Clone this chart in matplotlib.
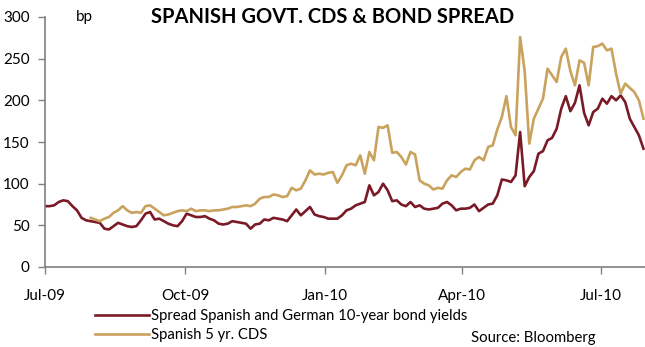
import matplotlib
matplotlib.use("Agg")
import matplotlib.pyplot as plt
import matplotlib.dates as mdates
import pandas as pd
import numpy as np

plt.rcParams['font.family'] = ['Lato', 'DejaVu Sans']

# 3-day sampling grid starting 1 Jul 2009
dates = pd.date_range('2009-07-01', periods=132, freq='3D')

bond_spread = [
    73, 73, 74, 78, 80, 79, 73, 68, 59, 56,
    55, 54, 53, 46, 45, 49, 53, 51, 49, 48,
    49, 56, 64, 66, 57, 58, 55, 52, 50, 49,
    55, 64, 62, 60, 60, 61, 58, 56, 52, 51,
    52, 55, 54, 53, 52, 46, 51, 52, 57, 56,
    59, 58, 57, 55, 62, 69, 62, 67, 72, 63,
    61, 60, 58, 58, 58, 62, 68, 70, 74, 76,
    78, 98, 86, 90, 100, 92, 79, 80, 75, 73,
    78, 72, 74, 70, 69, 70, 71, 76, 78, 74,
    68, 70, 70, 71, 75, 67, 71, 75, 76, 86,
    105, 104, 102, 110, 162, 97, 108, 115, 136, 139,
    152, 155, 166, 190, 205, 187, 197, 218, 185, 170,
    186, 190, 202, 196, 205, 200, 206, 198, 178, 168,
    158, 142,
]

# CDS series begins on the 11th grid date
cds_start = 10
cds_5yr = [
    59, 57, 55, 58, 60, 65, 68, 73, 68, 65,
    66, 65, 73, 74, 70, 66, 62, 63, 65, 67,
    68, 67, 70, 67, 68, 68, 67, 68, 68, 69,
    70, 72, 72, 73, 74, 73, 76, 82, 84, 84,
    87, 86, 84, 85, 95, 92, 94, 104, 116, 111,
    112, 111, 113, 114, 101, 110, 122, 124, 122, 134,
    112, 138, 128, 168, 167, 170, 137, 138, 132, 123,
    138, 135, 104, 100, 98, 93, 95, 94, 104, 110,
    108, 114, 118, 117, 128, 132, 128, 144, 146, 165,
    180, 205, 168, 158, 276, 235, 148, 178, 190, 202,
    238, 230, 222, 252, 262, 235, 218, 248, 245, 218,
    264, 265, 268, 260, 262, 232, 208, 220, 215, 210,
    200, 178,
]

yticks = [0, 50, 100, 150, 200, 250, 300]
xtick_dates = pd.to_datetime(['2009-07-01', '2009-10-01', '2010-01-01',
                              '2010-04-01', '2010-07-01'])

bond_color = '#7a1a27'
cds_color = '#c9a25e'

fig = plt.figure(figsize=(6.45, 3.47), dpi=100)
ax = fig.add_axes([45/645, 1-267/347, 1-45/645, (267-17)/347])

l1, = ax.plot(dates, bond_spread, color=bond_color, lw=1.9,
              label='Spread Spanish and German 10-year bond yields')
l2, = ax.plot(dates[cds_start:], cds_5yr, color=cds_color, lw=1.9,
              label='Spanish 5 yr. CDS')

ax.set_ylim(0, 300)
ax.set_yticks(yticks)
ax.set_xlim(pd.Timestamp('2009-07-01'), pd.Timestamp('2010-07-30'))
ax.set_xticks(xtick_dates)
ax.xaxis.set_major_formatter(mdates.DateFormatter('%b-%y'))

for s in ['top', 'right']:
    ax.spines[s].set_visible(False)
for s in ['left', 'bottom']:
    ax.spines[s].set_color('#808080')
    ax.spines[s].set_linewidth(1.2)
ax.tick_params(axis='both', direction='out', length=5, width=1.0,
               color='#808080', labelsize=11, labelcolor='black')
ax.tick_params(axis='x', pad=11)
ax.tick_params(axis='y', pad=6)

fig.text(0.515, 1-17/347, 'SPANISH GOVT. CDS & BOND SPREAD', ha='center',
         va='center', fontsize=14.5, fontweight='bold')
fig.text(76/645, 1-17/347, 'bp', ha='left', va='center', fontsize=11)

fig.legend(handles=[l1, l2], loc='upper left',
           bbox_to_anchor=(95/645, 1-309/347), frameon=False,
           fontsize=10.7, handlelength=3.6, handletextpad=0.15,
           labelspacing=0.32, borderpad=0, borderaxespad=0)
fig.text(471/645, 1-338/347, 'Source: Bloomberg', ha='left', va='center',
         fontsize=10.7)

fig.savefig('out.png', dpi=100)
